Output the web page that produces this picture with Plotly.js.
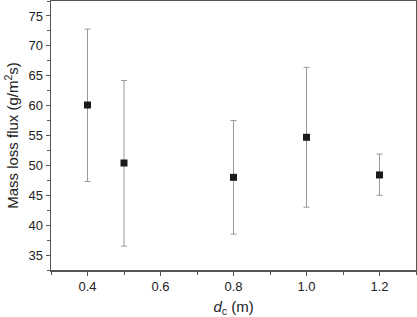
<!DOCTYPE html>
<html><head><meta charset="utf-8">
<script src="https://cdn.plot.ly/plotly-3.0.1.min.js"></script>
<style>html,body{margin:0;padding:0;background:#fff}#c{width:417px;height:317px}</style>
</head><body><div id="c"></div>
<script>
const dc = [0.4, 0.5, 0.8, 1.0, 1.2];
const flux = [60.1, 50.4, 48.0, 54.7, 48.4];
const errPlus = [12.7, 13.8, 9.5, 11.7, 3.5];
const errMinus = [12.8, 13.9, 9.5, 11.7, 3.4];
const xTicks = [0.4, 0.6, 0.8, 1.0, 1.2];
const xTickText = ['0.4', '0.6', '0.8', '1.0', '1.2'];
const yTicks = [35, 40, 45, 50, 55, 60, 65, 70, 75];

const trace = {
  x: dc, y: flux, type: 'scatter', mode: 'markers',
  marker: {symbol: 'square', size: 7, color: '#1a1a1a'},
  error_y: {type: 'data', symmetric: false, array: errPlus, arrayminus: errMinus,
            color: '#999999', thickness: 1, width: 3},
  showlegend: false
};
const fontFam = 'Liberation Sans, Arial, sans-serif';
const layout = {
  width: 417, height: 317,
  margin: {l: 51, r: 1, t: 1, b: 47},
  paper_bgcolor: '#fff', plot_bgcolor: '#fff',
  font: {family: fontFam, size: 13, color: '#222'},
  xaxis: {
    range: [0.3, 1.3], tickvals: xTicks, ticktext: xTickText,
    ticks: 'outside', ticklen: 4, tickcolor: '#555', tickwidth: 1,
    minor: {dtick: 0.1, tick0: 0.3, ticks: 'outside', ticklen: 3, tickcolor: '#555'},
    showgrid: false, zeroline: false,
    showline: true, linecolor: '#555', linewidth: 1.5, mirror: true,
    tickfont: {size: 13, family: fontFam, color: '#222'},
    title: {text: '<i>d</i><sub>c</sub> (m)', font: {size: 15, family: fontFam, color: '#222'}, standoff: 9}
  },
  yaxis: {
    range: [32.5, 77.5], tickvals: yTicks,
    ticks: 'outside', ticklen: 4, tickcolor: '#555', tickwidth: 1,
    minor: {dtick: 2.5, tick0: 32.5, ticks: 'outside', ticklen: 3, tickcolor: '#555'},
    showgrid: false, zeroline: false,
    showline: true, linecolor: '#555', linewidth: 1.5, mirror: true,
    tickfont: {size: 13, family: fontFam, color: '#222'},
    title: {text: 'Mass loss flux (g/m<sup>2</sup>s)', font: {size: 15, family: fontFam, color: '#222'}, standoff: 6}
  }
};
Plotly.newPlot('c', [trace], layout, {staticPlot: true, displayModeBar: false});
</script></body></html>
